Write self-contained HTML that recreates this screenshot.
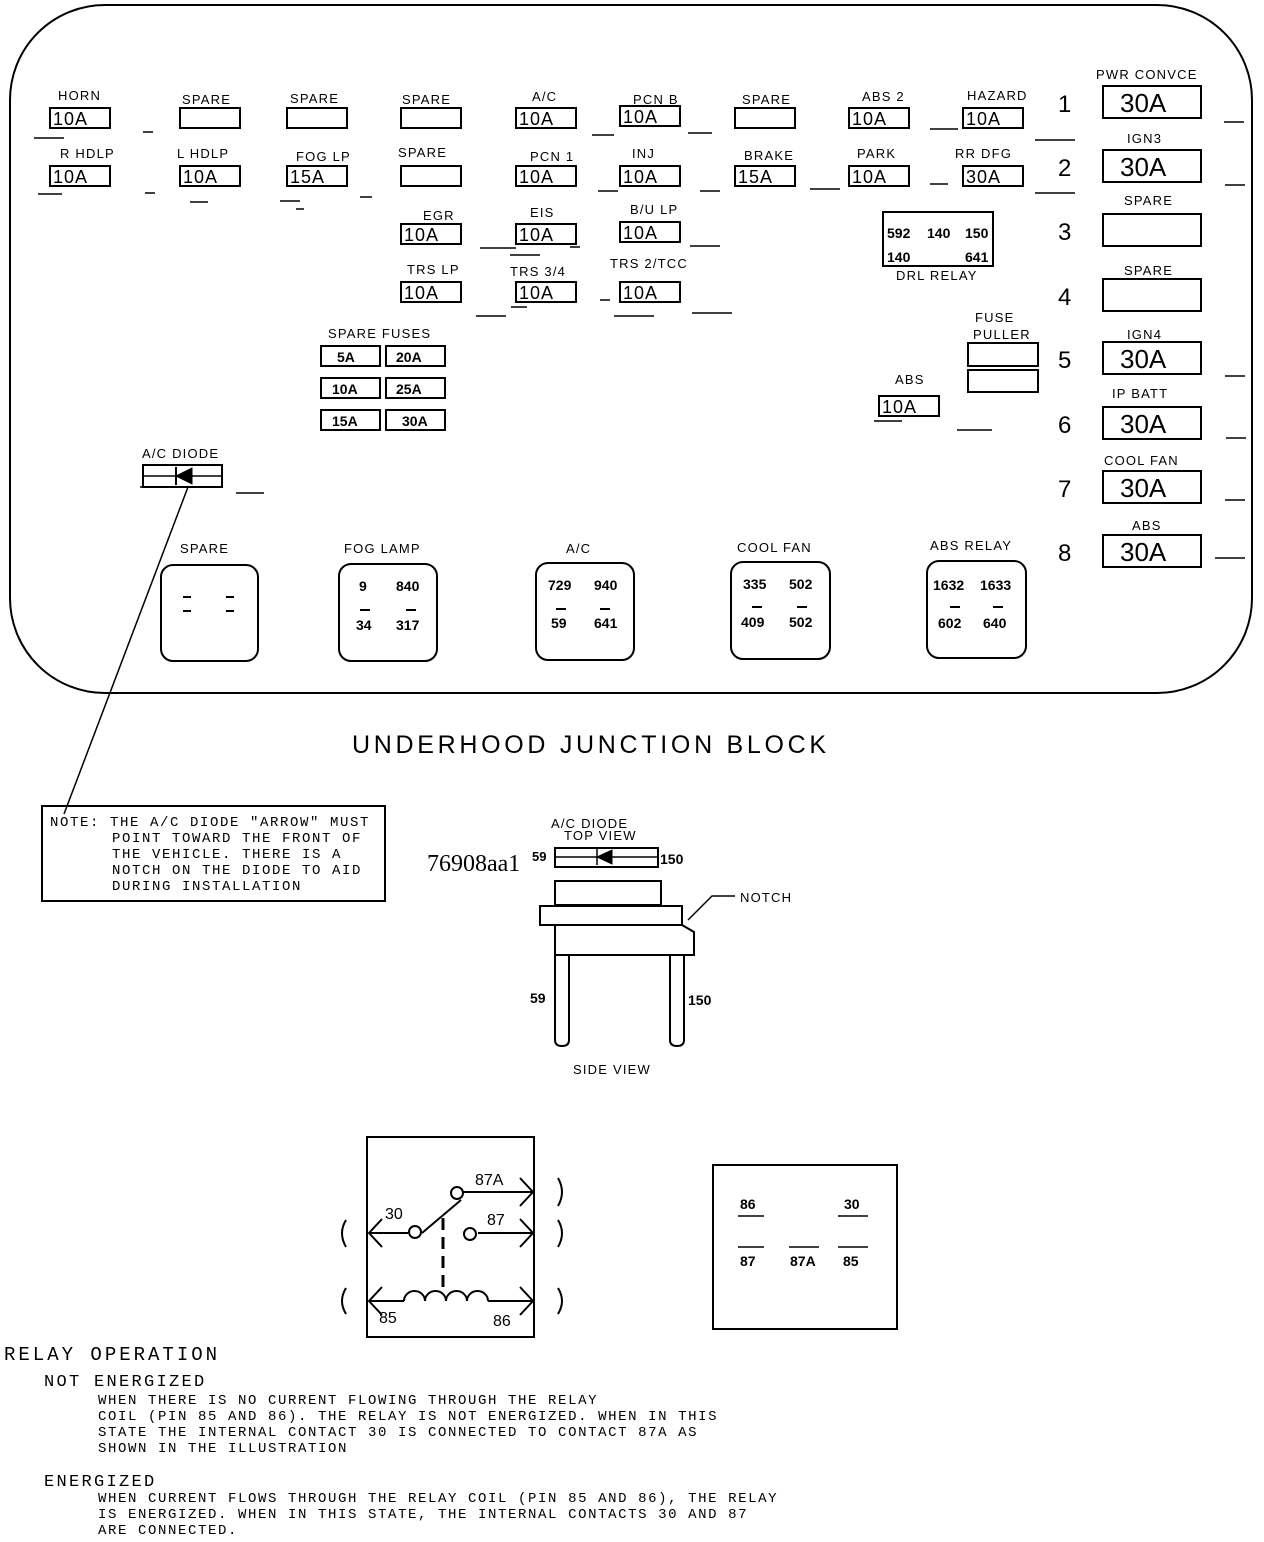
<!DOCTYPE html>
<html><head><meta charset="utf-8"><style>
html,body{margin:0;padding:0;background:#fff;}
svg{display:block;}
text{font-family:"Liberation Sans",sans-serif;fill:#000;}
.l,.l text{font-size:13px;letter-spacing:1.2px;}
.f,.f text{font-size:18px;letter-spacing:1px;}
.b,.b text{font-size:14px;font-weight:bold;}
.big,.big text{font-size:26px;}
.n,.n text{font-size:24px;}
.t,.t text{font-family:"Liberation Mono",monospace;font-size:14px;letter-spacing:1.6px;}
</style></head><body>
<svg width="1264" height="1542" viewBox="0 0 1264 1542" xmlns="http://www.w3.org/2000/svg" fill="none" stroke="#000">
<rect x="10" y="5" width="1242" height="688" rx="95" ry="95" stroke-width="2"/>
<g stroke-width="2">
<rect x="50" y="108" width="60" height="20"/><rect x="180" y="108" width="60" height="20"/><rect x="287" y="108" width="60" height="20"/><rect x="401" y="108" width="60" height="20"/><rect x="516" y="108" width="60" height="20"/><rect x="620" y="106" width="60" height="20"/><rect x="735" y="108" width="60" height="20"/><rect x="849" y="108" width="60" height="20"/><rect x="963" y="108" width="60" height="20"/>
<rect x="50" y="166" width="60" height="20"/><rect x="180" y="166" width="60" height="20"/><rect x="287" y="166" width="60" height="20"/><rect x="401" y="166" width="60" height="20"/><rect x="516" y="166" width="60" height="20"/><rect x="620" y="166" width="60" height="20"/><rect x="735" y="166" width="60" height="20"/><rect x="849" y="166" width="60" height="20"/><rect x="963" y="166" width="60" height="20"/>
<rect x="401" y="224" width="60" height="20"/><rect x="516" y="224" width="60" height="20"/><rect x="620" y="222" width="60" height="20"/>
<rect x="401" y="282" width="60" height="20"/><rect x="516" y="282" width="60" height="20"/><rect x="620" y="282" width="60" height="20"/>
<rect x="883" y="212" width="110" height="54"/>
<rect x="321" y="346" width="59" height="20"/><rect x="386" y="346" width="59" height="20"/>
<rect x="321" y="378" width="59" height="20"/><rect x="386" y="378" width="59" height="20"/>
<rect x="321" y="410" width="59" height="20"/><rect x="386" y="410" width="59" height="20"/>
<rect x="968" y="343" width="70" height="23"/><rect x="968" y="370" width="70" height="22"/>
<rect x="879" y="396" width="60" height="20"/>
<rect x="1103" y="86" width="98" height="32"/><rect x="1103" y="150" width="98" height="32"/><rect x="1103" y="214" width="98" height="32"/><rect x="1103" y="279" width="98" height="32"/><rect x="1103" y="342" width="98" height="32"/><rect x="1103" y="407" width="98" height="32"/><rect x="1103" y="471" width="98" height="32"/><rect x="1103" y="535" width="98" height="32"/>
<rect x="143" y="465" width="79" height="22"/>
<rect x="161" y="565" width="97" height="96" rx="12"/><rect x="339" y="564" width="98" height="97" rx="12"/><rect x="536" y="563" width="98" height="97" rx="12"/><rect x="731" y="562" width="99" height="97" rx="12"/><rect x="927" y="561" width="99" height="97" rx="12"/>
</g>
<line x1="143" y1="476" x2="222" y2="476" stroke-width="1.5"/>
<polygon points="176,476 192,468 192,484" fill="#000"/><line x1="176" y1="467" x2="176" y2="485" stroke-width="2"/>
<line x1="188" y1="487" x2="64" y2="814" stroke-width="1.5"/>
<g stroke-width="1.5">
<path d="M34 138h30M143 132h10M38 194h24M145 193h10M190 202h18M280 201h20M296 209h8M360 197h12M592 135h22M688 133h24M598 191h20M700 191h20M810 189h30M930 129h28M930 184h18M1035 140h40M1035 193h40M1224 122h20M1225 185h20M1225 376h20M1226 438h20M1225 500h20M1215 558h30M480 248h36M476 316h30M511 307h16M600 300h10M614 316h40M692 313h40M690 246h30M570 247h10M510 255h30M874 421h28M957 430h35M236 493h28M140 487h8"/>
</g>
<g stroke="none">
<g class="l">
<text x="58" y="100">HORN</text>
<text x="182" y="104">SPARE</text><text x="290" y="103">SPARE</text><text x="402" y="104">SPARE</text>
<text x="532" y="101">A/C</text><text x="633" y="104">PCN B</text><text x="742" y="104">SPARE</text><text x="862" y="101">ABS 2</text><text x="967" y="100">HAZARD</text>
<text x="60" y="158">R HDLP</text><text x="177" y="158">L HDLP</text><text x="296" y="161">FOG LP</text><text x="398" y="157">SPARE</text>
<text x="530" y="161">PCN 1</text><text x="632" y="158">INJ</text><text x="744" y="160">BRAKE</text><text x="857" y="158">PARK</text><text x="955" y="158">RR DFG</text>
<text x="423" y="220">EGR</text><text x="530" y="217">EIS</text><text x="630" y="214">B/U LP</text>
<text x="407" y="274">TRS LP</text><text x="510" y="276">TRS 3/4</text><text x="610" y="268">TRS 2/TCC</text>
<text x="896" y="280">DRL RELAY</text>
<text x="328" y="338">SPARE FUSES</text>
<text x="975" y="322">FUSE</text><text x="973" y="339">PULLER</text>
<text x="895" y="384">ABS</text>
<text x="1096" y="79">PWR CONVCE</text><text x="1127" y="143">IGN3</text><text x="1124" y="205">SPARE</text><text x="1124" y="275">SPARE</text><text x="1127" y="339">IGN4</text><text x="1112" y="398">IP BATT</text><text x="1104" y="465">COOL FAN</text><text x="1132" y="530">ABS</text>
<text x="142" y="458">A/C DIODE</text>
<text x="180" y="553">SPARE</text><text x="344" y="553">FOG LAMP</text><text x="566" y="553">A/C</text><text x="737" y="552">COOL FAN</text><text x="930" y="550">ABS RELAY</text>
<text x="551" y="828">A/C DIODE</text><text x="564" y="840">TOP VIEW</text>
<text x="740" y="902">NOTCH</text>
<text x="573" y="1074">SIDE VIEW</text>
</g>
<g class="f">
<text x="53" y="125">10A</text><text x="53" y="183">10A</text><text x="183" y="183">10A</text><text x="290" y="183">15A</text>
<text x="519" y="125">10A</text><text x="623" y="123">10A</text><text x="852" y="125">10A</text><text x="966" y="125">10A</text>
<text x="519" y="183">10A</text><text x="623" y="183">10A</text><text x="738" y="183">15A</text><text x="852" y="183">10A</text><text x="966" y="183">30A</text>
<text x="404" y="241">10A</text><text x="519" y="241">10A</text><text x="623" y="239">10A</text>
<text x="404" y="299">10A</text><text x="519" y="299">10A</text><text x="623" y="299">10A</text>
<text x="882" y="413">10A</text>
</g>
<g class="b"><text x="887" y="238">592</text><text x="927" y="238">140</text><text x="965" y="238">150</text><text x="887" y="262">140</text><text x="965" y="262">641</text></g>
<g class="b"><text x="337" y="362">5A</text><text x="396" y="362">20A</text><text x="332" y="394">10A</text><text x="396" y="394">25A</text><text x="332" y="426">15A</text><text x="402" y="426">30A</text></g>
<g class="n"><text x="1058" y="112">1</text><text x="1058" y="176">2</text><text x="1058" y="240">3</text><text x="1058" y="305">4</text><text x="1058" y="368">5</text><text x="1058" y="433">6</text><text x="1058" y="497">7</text><text x="1058" y="561">8</text></g>
<g class="big"><text x="1120" y="112">30A</text><text x="1120" y="176">30A</text><text x="1120" y="368">30A</text><text x="1120" y="433">30A</text><text x="1120" y="497">30A</text><text x="1120" y="561">30A</text></g>
<g class="b">
<text x="359" y="591">9</text><text x="396" y="591">840</text><text x="356" y="630">34</text><text x="396" y="630">317</text>
<text x="548" y="590">729</text><text x="594" y="590">940</text><text x="551" y="628">59</text><text x="594" y="628">641</text>
<text x="743" y="589">335</text><text x="789" y="589">502</text><text x="741" y="627">409</text><text x="789" y="627">502</text>
<text x="933" y="590">1632</text><text x="980" y="590">1633</text><text x="938" y="628">602</text><text x="983" y="628">640</text>
</g>
<text x="352" y="753" style="font-size:25px;letter-spacing:3.7px">UNDERHOOD JUNCTION BLOCK</text>
<g class="t"><text x="50" y="826">NOTE: THE A/C DIODE "ARROW" MUST</text><text x="112" y="842">POINT TOWARD THE FRONT OF</text><text x="112" y="858">THE VEHICLE. THERE IS A</text><text x="112" y="874">NOTCH ON THE DIODE TO AID</text><text x="112" y="890">DURING INSTALLATION</text></g>
<text x="427" y="871" style="font-family:'Liberation Serif',serif;font-size:24px">76908aa1</text>
<text x="532" y="861" style="font-size:13px;font-weight:bold">59</text><text x="660" y="864" class="b">150</text>
<text class="b" x="530" y="1003">59</text><text class="b" x="688" y="1005">150</text>
</g>
<g stroke-width="2">
<rect x="42" y="806" width="343" height="95"/>
<rect x="555" y="848" width="103" height="19"/>
<rect x="555" y="881" width="106" height="24"/>
<rect x="540" y="906" width="142" height="19"/>
<path d="M555 925 V955 H694 V932 L682 925"/>
<path d="M555 955 V1040 Q555 1046 562 1046 Q569 1046 569 1040 V955"/>
<path d="M670 955 V1040 Q670 1046 677 1046 Q684 1046 684 1040 V955"/>
<path d="M688 920 L712 896 H735" stroke-width="1.5"/>
</g>
<line x1="555" y1="857" x2="658" y2="857" stroke-width="1.5"/>
<polygon points="597,857 612,850 612,864" fill="#000"/><line x1="597" y1="849" x2="597" y2="865" stroke-width="1.5"/>
<g stroke-width="2">
<rect x="367" y="1137" width="167" height="200"/>
<path d="M369 1233 H408 M422 1233 L461 1200 M463 1192 H532 M478 1233 H532 M369 1301 H404 M488 1301 H532"/>
<path d="M404 1301 a10.5 10 0 0 1 21 0 a10.5 10 0 0 1 21 0 a10.5 10 0 0 1 21 0 a10.5 10 0 0 1 21 0"/>
<path d="M443 1218 V1292" stroke-dasharray="12,7" stroke-width="3"/>
<circle cx="415" cy="1232" r="6" fill="#fff"/><circle cx="457" cy="1193" r="6" fill="#fff"/><circle cx="470" cy="1234" r="6" fill="#fff"/>
<path d="M382 1219 L369 1233 L382 1247 M520 1178 L533 1192 L520 1206 M520 1219 L533 1233 L520 1247 M382 1287 L369 1301 L382 1315 M520 1287 L533 1301 L520 1315"/>
<path d="M346 1220 Q338 1233 346 1247 M346 1288 Q338 1301 346 1314 M558 1178 Q566 1192 558 1206 M558 1220 Q566 1233 558 1247 M558 1288 Q566 1301 558 1314"/>
<rect x="713" y="1165" width="184" height="164"/>
<path d="M738 1216 H764 M838 1216 H868 M738 1247 H764 M789 1247 H819 M838 1247 H868" stroke-width="1.5"/>
</g>
<g stroke="none">
<text x="385" y="1219" style="font-size:16px">30</text><text x="475" y="1185" style="font-size:16px">87A</text><text x="487" y="1225" style="font-size:16px">87</text>
<text x="379" y="1323" style="font-size:16px">85</text><text x="493" y="1326" style="font-size:16px">86</text>
<g class="b"><text x="740" y="1209">86</text><text x="844" y="1209">30</text><text x="740" y="1266">87</text><text x="790" y="1266">87A</text><text x="843" y="1266">85</text></g>
<text x="4" y="1360" style="font-family:'Liberation Mono',monospace;font-size:19px;letter-spacing:3px">RELAY OPERATION</text>
<text x="44" y="1386" style="font-family:'Liberation Mono',monospace;font-size:17px;letter-spacing:2.3px">NOT ENERGIZED</text>
<g class="t"><text x="98" y="1404">WHEN THERE IS NO CURRENT FLOWING THROUGH THE RELAY</text><text x="98" y="1420">COIL (PIN 85 AND 86). THE RELAY IS NOT ENERGIZED.  WHEN IN THIS</text><text x="98" y="1436">STATE THE INTERNAL CONTACT 30 IS CONNECTED TO CONTACT 87A AS</text><text x="98" y="1452">SHOWN IN THE ILLUSTRATION</text></g>
<text x="44" y="1486" style="font-family:'Liberation Mono',monospace;font-size:17px;letter-spacing:2.3px">ENERGIZED</text>
<g class="t"><text x="98" y="1502">WHEN CURRENT FLOWS THROUGH THE RELAY COIL (PIN 85 AND 86), THE RELAY</text><text x="98" y="1518">IS ENERGIZED.  WHEN IN THIS STATE, THE INTERNAL CONTACTS 30 AND 87</text><text x="98" y="1534">ARE CONNECTED.</text></g>
</g>
<g stroke-width="2"><path d="M183 597h8M226 597h8M183 611h8M226 611h8M360 610h10M406 610h10M556 609h10M600 609h10M752 607h10M797 607h10M950 607h10M993 607h10"/></g>
</svg>
</body></html>
